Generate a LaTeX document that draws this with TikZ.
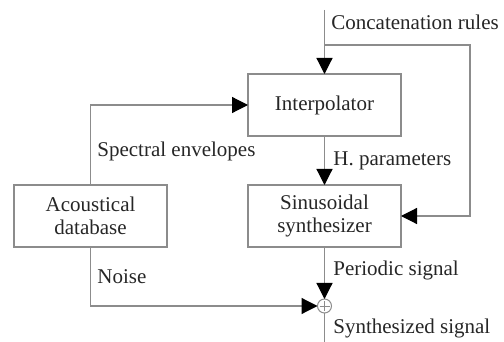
\documentclass[tikz,border=0pt]{standalone}
\usepackage{fontspec}
\setmainfont{Liberation Serif}
\usepackage{tikz}
\usetikzlibrary{arrows.meta,positioning}

\definecolor{linegray}{gray}{0.55}

\begin{document}
\begin{tikzpicture}[
  x=0.5pt, y=-0.5pt,
  node distance=24.5pt and 40.5pt,
  blockbox/.style={draw=linegray, line width=0.6pt, minimum width=76.5pt,
              minimum height=31pt, inner sep=0pt, outer sep=0pt, align=center,
              font=\fontsize{10.5}{11.5}\selectfont, text=black!85},
  lbl/.style={anchor=west, inner sep=0pt, font=\fontsize{10.5}{12}\selectfont, text=black!85},
  sumnode/.style={circle, draw=linegray, line width=0.5pt, minimum size=7pt,
              inner sep=0pt, outer sep=0pt},
  arr/.style={draw=linegray, line width=0.6pt,
              -{Triangle[length=8pt, width=8pt, color=black]}},
  conn/.style={draw=linegray, line width=0.6pt},
]
\useasboundingbox (0,0) rectangle (504,342);

\node[blockbox] (interp) at (324.5,105) {Interpolator};
\node[blockbox, below=of interp] (synth) {Sinusoidal\\synthesizer};
\node[blockbox, left=of synth] (acoust) {Acoustical\\database};
\node[sumnode] (sum) at (324.5,306) {};
\draw[linegray, line width=0.4pt] ([xshift=-2.5pt]sum.center) -- ([xshift=2.5pt]sum.center)
  ([yshift=-2.5pt]sum.center) -- ([yshift=2.5pt]sum.center);

\coordinate (rulesin) at (324.5,10);
\coordinate (rulesturn) at (470,45);
\coordinate (out) at (324.5,342);

% connectors
\draw[arr] (rulesin) -- (interp.north);
\draw[arr] (rulesin |- rulesturn) -- (rulesturn) |- (synth.east);
\draw[arr] (acoust.north) |- (interp.west);
\draw[arr] (interp.south) -- (synth.north);
\draw[arr] (synth.south) -- (sum.north);
\draw[arr] (acoust.south) |- (sum.west);
\draw[conn] (sum.south) -- (out);

% labels
\node[lbl] (rules) at (331,22) {Concatenation rules};
\node[lbl] (spectral) at (97,151) {Spectral envelopes};
\node[lbl] (hparam) at (333,161) {H. parameters};
\node[lbl] (periodic) at (333,270) {Periodic signal};
\node[lbl] (noise) at (97,277) {Noise};
\node[lbl] (synthsig) at (333,328) {Synthesized signal};
\end{tikzpicture}
\end{document}
